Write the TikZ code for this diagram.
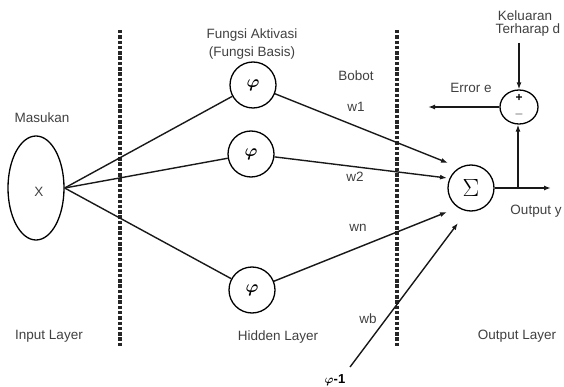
\documentclass[tikz,border=0pt]{standalone}
\usepackage{amsmath}
\usepackage{fontspec}
\setmainfont{Liberation Sans}
\usetikzlibrary{arrows.meta,shapes.geometric}
\begin{document}
\begin{tikzpicture}[x=1pt,y=-1pt,
  lbl/.style={font=\fontsize{13.5}{15}\selectfont, text=black!75, inner sep=0pt},
  neuron/.style={draw, circle, line width=1.3pt, minimum size=46pt, inner sep=0pt},
  link/.style={line width=1.4pt, black!90},
  arr/.style={link, -{Latex[length=7pt,width=5pt]}},
  sep/.style={line width=3.2pt, black!85, dash pattern=on 3.5pt off 1.8pt},
  glyph/.style={font=\fontsize{19}{19}\selectfont\bfseries}]
\useasboundingbox (0,0) rectangle (564,387);

% separators
\draw[sep] (120,30) coordinate (s1a) -- (120,347) coordinate (s1b);
\draw[sep] (397,30) coordinate (s2a) -- (397,347) coordinate (s2b);

% input
\node[draw, ellipse, line width=1.3pt, minimum width=56pt, minimum height=104pt, inner sep=0pt] (in) at (36,188) {};
\node[lbl] (x) at (39,192) {X};
\node[lbl] (mas) at (42,118) {Masukan};

% hidden
\node[neuron, glyph] (h1) at (253,85) {$\boldsymbol{\varphi}$};
\node[neuron, glyph] (h2) at (251,154) {$\boldsymbol{\varphi}$};
\node[neuron, glyph] (h3) at (252,290) {$\boldsymbol{\varphi}$};
\node[lbl] (fa) at (252,35) {Fungsi Aktivasi};
\node[lbl] (fb) at (252,53) {(Fungsi Basis)};

% output
\node[neuron] (sum) at (471,188) {\fontsize{24}{24}\selectfont$\Sigma$};
\node[draw, ellipse, line width=1.3pt, minimum width=38pt, minimum height=34pt, inner sep=0pt] (err) at (519,107) {};
\node[font=\fontsize{12}{12}\selectfont\bfseries] (plus) at (519,98) {+};
\node[font=\fontsize{12}{12}\selectfont\bfseries] (minus) at (519,115) {$-$};

% coordinates
\coordinate (a1) at (448,163);
\coordinate (a2) at (447,178);
\coordinate (an) at (447,212);
\coordinate (ab) at (458,223);
\coordinate (b0) at (350,367);
\coordinate (out) at (551,188);
\coordinate (j) at (518,188);
\coordinate (kd) at (519,43);
\coordinate (ee) at (428,107);

% connectors input -> hidden
\draw[link] (in.east) -- (h1);
\draw[link] (in.east) -- (h2);
\draw[link] (in.east) -- (h3);

% hidden -> sum
\draw[arr] (h1) -- (a1);
\draw[arr] (h2) -- (a2);
\draw[arr] (h3) -- (an);
\draw[arr] (b0) -- (ab);

% output side
\draw[arr] (sum.east) -- (out);
\draw[arr] (j) -- (j |- err.south);
\draw[arr] (kd) -- (err.north);
\draw[arr] (err.west) -- (ee);

% labels
\node[lbl] (bob) at (356,76) {Bobot};
\node[lbl] (w1) at (356,107) {w1};
\node[lbl] (w2) at (355,177) {w2};
\node[lbl] (wn) at (358,228) {wn};
\node[lbl] (wb) at (368,319) {wb};
\node[lbl] (kel) at (525,16) {Keluaran};
\node[lbl] (ter) at (528,30) {Terharap d};
\node[lbl] (ere) at (471,88) {Error e};
\node[lbl] (oy) at (536,211) {Output y};
\node[lbl] (il) at (49,336) {Input Layer};
\node[lbl] (hl) at (278,337) {Hidden Layer};
\node[lbl] (ol) at (517,336) {Output Layer};
\node[font=\fontsize{13}{13}\selectfont\bfseries] (bias) at (335,380) {$\boldsymbol{\varphi}$-1};
\end{tikzpicture}
\end{document}
